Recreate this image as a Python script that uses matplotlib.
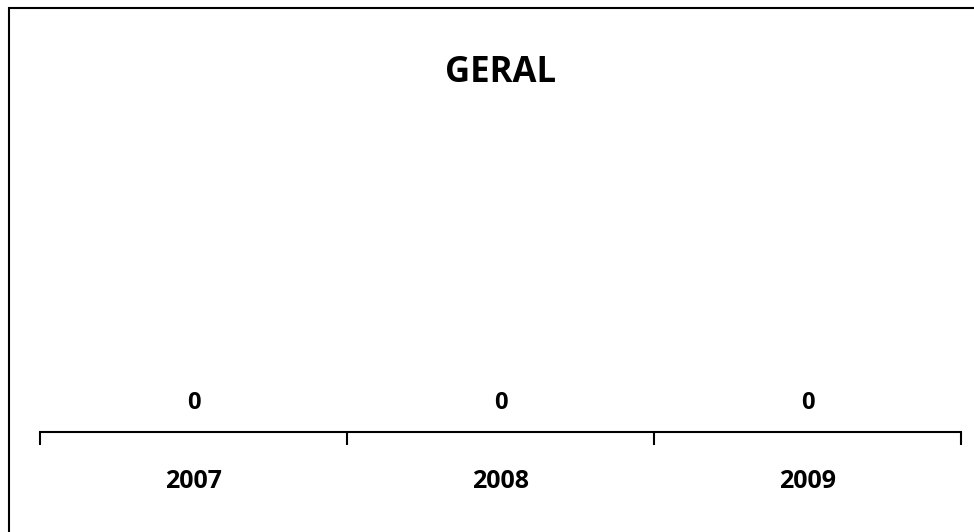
import matplotlib
matplotlib.use('Agg')
import matplotlib.pyplot as plt
from matplotlib.patches import Rectangle

# Data
years = ['2007', '2008', '2009']
values = [0, 0, 0]

plt.rcParams['font.family'] = ['Open Sans', 'DejaVu Sans']

fig = plt.figure(figsize=(9.74, 5.32), dpi=100)

# outer frame (only top/left visible in the reference)
fig.patches.append(Rectangle((9 / 974, -0.1), 1.2, 1 - 8 / 532 + 0.1,
                             transform=fig.transFigure, fill=False,
                             edgecolor='black', linewidth=1.5))

ax = fig.add_axes([40 / 974, (532 - 432) / 532, 921 / 974, 0.6])
x = range(len(years))
bars = ax.bar(x, values, width=0.6, color='#4F81BD')
ax.set_xlim(-0.5, len(years) - 0.5)
ax.set_ylim(0, 1)

for spine in ['top', 'right', 'left']:
    ax.spines[spine].set_visible(False)
ax.spines['bottom'].set_linewidth(1.5)
ax.set_yticks([])

ax.set_xticks(list(x))
ax.set_xticklabels(years, fontsize=18, fontweight='bold')
ax.tick_params(axis='x', which='major', length=0, pad=27)
ax.set_xticks([i - 0.5 for i in range(len(years) + 1)], minor=True)
ax.tick_params(axis='x', which='minor', length=9, width=1.5, direction='out')

for xi, v in zip(x, values):
    ax.annotate(str(v), (xi, v), xytext=(0, 21), textcoords='offset points',
                ha='center', va='center', fontsize=17, fontweight='bold')

fig.text(501 / 974, 1 - 82 / 532, 'GERAL', ha='center', va='baseline',
         fontsize=25, fontweight='bold')

fig.savefig('out.png', dpi=100)
